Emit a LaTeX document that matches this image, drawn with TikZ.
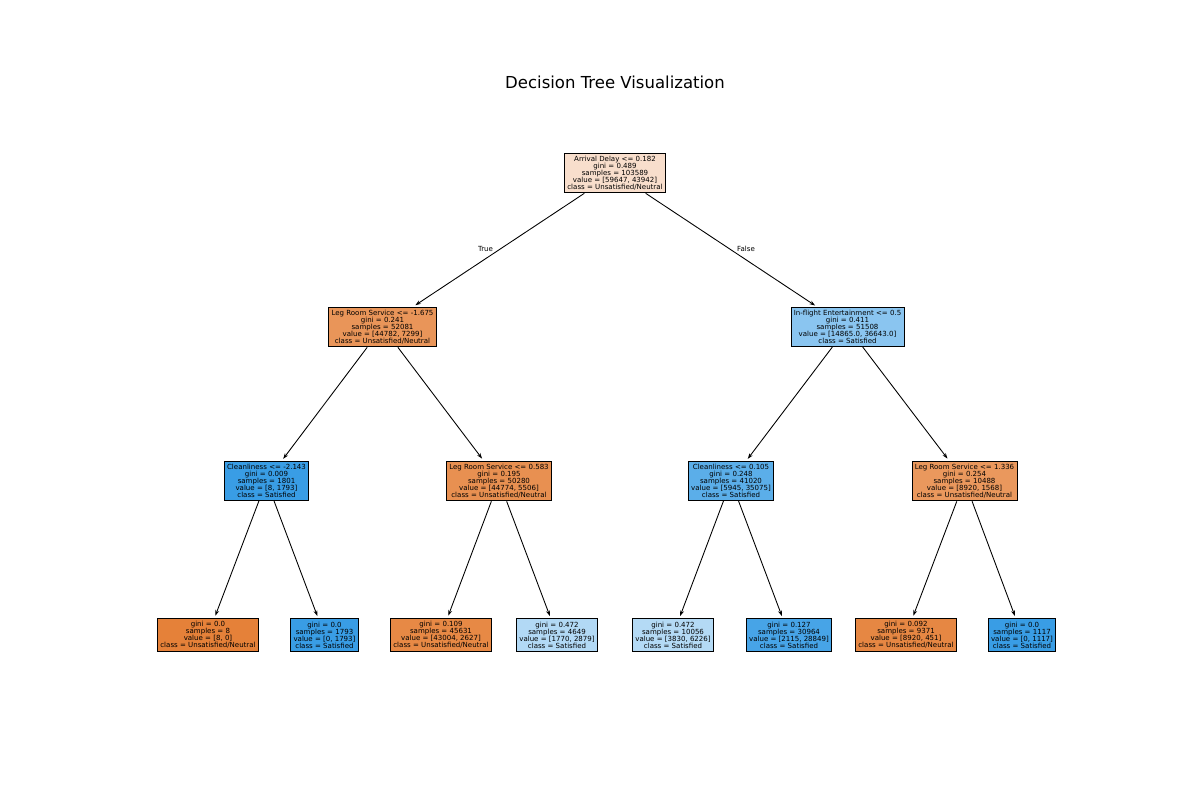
\documentclass[tikz,border=0pt]{standalone}
\usepackage{fontspec}
\setmainfont{DejaVu Sans}
\usepackage{tikz}
\usetikzlibrary{arrows.meta}

\definecolor{unsat}{RGB}{229,129,57}
\definecolor{sat}{RGB}{57,157,229}

\begin{document}
\begin{tikzpicture}[->,>={Stealth[length=3.2pt,width=2.2pt]},shorten >=1.5pt,x=0.02cm,y=-0.02cm,
                    every node/.style={font=\fontsize{4}{4}\selectfont}]
  \tikzstyle{split}=[draw=black,line width=0.5pt,align=center,inner sep=1.6pt]
  \tikzstyle{branch}=[draw=none,fill=none,inner sep=0pt]

  \useasboundingbox (0,0) rectangle (1200,800);
  \node[font=\fontsize{9.4}{11}\selectfont] (title) at (615,82) {Decision Tree Visualization};

  % depth 0
  \node[split, fill=unsat!26!white] (0) at (615,173)
    {Arrival Delay <= 0.182\\gini = 0.489\\samples = 103589\\value = [59647, 43942]\\class = Unsatisfied/Neutral};

  % depth 1
  \node[split, fill=unsat!84!white] (1) at (382.5,327)
    {Leg Room Service <= -1.675\\gini = 0.241\\samples = 52081\\value = [44782, 7299]\\class = Unsatisfied/Neutral};
  \node[split, fill=sat!59!white]   (2) at (847.5,327)
    {In-flight Entertainment <= 0.5\\gini = 0.411\\samples = 51508\\value = [14865.0, 36643.0]\\class = Satisfied};

  % depth 2
  \node[split, fill=sat!100!white]  (3) at (266.5,481)
    {Cleanliness <= -2.143\\gini = 0.009\\samples = 1801\\value = [8, 1793]\\class = Satisfied};
  \node[split, fill=unsat!88!white] (4) at (499,481)
    {Leg Room Service <= 0.583\\gini = 0.195\\samples = 50280\\value = [44774, 5506]\\class = Unsatisfied/Neutral};
  \node[split, fill=sat!83!white]   (5) at (731,481)
    {Cleanliness <= 0.105\\gini = 0.248\\samples = 41020\\value = [5945, 35075]\\class = Satisfied};
  \node[split, fill=unsat!82!white] (6) at (964.5,481)
    {Leg Room Service <= 1.336\\gini = 0.254\\samples = 10488\\value = [8920, 1568]\\class = Unsatisfied/Neutral};

  % leaves
  \node[split, fill=unsat!100!white] (7)  at (208,635)
    {gini = 0.0\\samples = 8\\value = [8, 0]\\class = Unsatisfied/Neutral};
  \node[split, fill=sat!100!white]   (8)  at (324.5,635)
    {gini = 0.0\\samples = 1793\\value = [0, 1793]\\class = Satisfied};
  \node[split, fill=unsat!94!white]  (9)  at (441,635)
    {gini = 0.109\\samples = 45631\\value = [43004, 2627]\\class = Unsatisfied/Neutral};
  \node[split, fill=sat!39!white]    (10) at (557,635)
    {gini = 0.472\\samples = 4649\\value = [1770, 2879]\\class = Satisfied};
  \node[split, fill=sat!38!white]    (11) at (673,635)
    {gini = 0.472\\samples = 10056\\value = [3830, 6226]\\class = Satisfied};
  \node[split, fill=sat!93!white]    (12) at (789,635)
    {gini = 0.127\\samples = 30964\\value = [2115, 28849]\\class = Satisfied};
  \node[split, fill=unsat!95!white]  (13) at (906,635)
    {gini = 0.092\\samples = 9371\\value = [8920, 451]\\class = Unsatisfied/Neutral};
  \node[split, fill=sat!100!white]   (14) at (1022,635)
    {gini = 0.0\\samples = 1117\\value = [0, 1117]\\class = Satisfied};

  \path[line width=0.5pt]
        (0) edge node[branch, pos=.49, left=4pt] {True} (1)
            edge node[branch, pos=.49, right=4pt] {False} (2)
        (1) edge (3)
            edge (4)
        (2) edge (5)
            edge (6)
        (3) edge (7)
            edge (8)
        (4) edge (9)
            edge (10)
        (5) edge (11)
            edge (12)
        (6) edge (13)
            edge (14);
\end{tikzpicture}
\end{document}
